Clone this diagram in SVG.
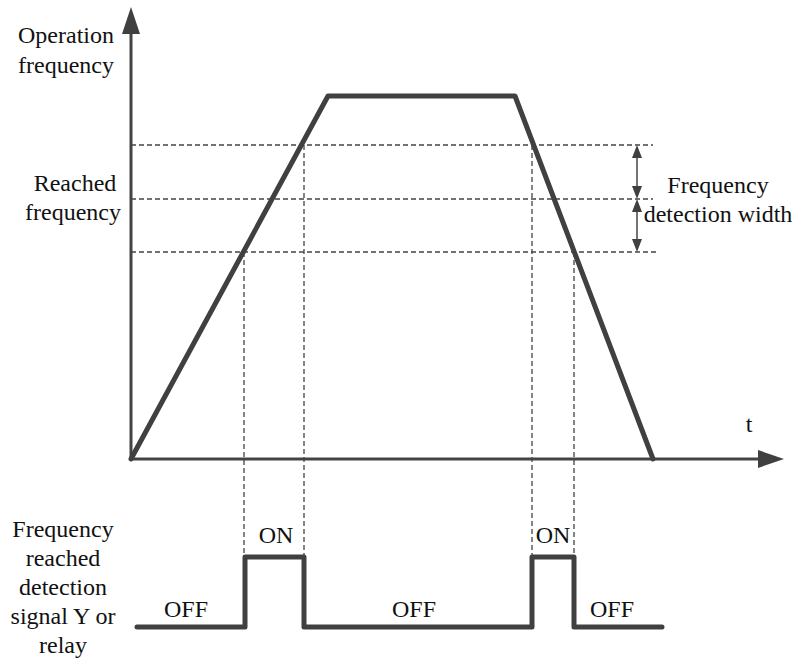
<svg xmlns="http://www.w3.org/2000/svg" width="798" height="663" viewBox="0 0 798 663">
<style>
.ax{stroke:#444;stroke-width:3;fill:none}
.thick{stroke:#404040;stroke-width:5;fill:none;stroke-linejoin:round;stroke-linecap:round}
.dash{stroke:#444;stroke-width:1.3;stroke-dasharray:5,3;fill:none}
.dim{stroke:#444;stroke-width:1.5;fill:none}
</style>
<rect width="798" height="663" fill="#fff"/>
<g id="axes">
<line class="ax" x1="131" y1="460" x2="131" y2="30"/>
<path d="M131,7 L122,34 L140,34 Z" fill="#404040"/>
<line class="ax" x1="131" y1="459" x2="760" y2="459"/>
<path d="M784,459 L758,450 L758,468 Z" fill="#404040"/>
</g>
<g id="connectors">
<line class="dash" x1="131" y1="145" x2="653" y2="145"/>
<line class="dash" x1="131" y1="199" x2="653" y2="199"/>
<line class="dash" x1="131" y1="252" x2="657" y2="252"/>
<line class="dash" x1="244" y1="252" x2="244" y2="557"/>
<line class="dash" x1="304" y1="145" x2="304" y2="557"/>
<line class="dash" x1="532" y1="145" x2="532" y2="557"/>
<line class="dash" x1="574" y1="252" x2="574" y2="557"/>
<line class="dim" x1="637" y1="152" x2="637" y2="192"/>
<path d="M637,145 L632,158 L642,158 Z M637,199 L632,186 L642,186 Z" fill="#404040"/>
<line class="dim" x1="637" y1="205" x2="637" y2="245"/>
<path d="M637,199 L632,212 L642,212 Z M637,252 L632,239 L642,239 Z" fill="#404040"/>
</g>
<g id="frequency-curve">
<polyline class="thick" points="131,459 328,96 515,96 653,459"/>
</g>
<g id="signal">
<polyline class="thick" points="137,627 245,627 245,557 304,557 304,627 532,627 532,557 574,557 574,627 662,627"/>
</g>
<g id="labels" fill="#111" text-anchor="middle">
<text font-family="Liberation Serif" font-size="24" x="66" y="43">Operation</text>
<text font-family="Liberation Serif" font-size="24" x="66" y="73">frequency</text>
<text font-family="Liberation Serif" font-size="24" x="75" y="191">Reached</text>
<text font-family="Liberation Serif" font-size="24" x="73" y="220">frequency</text>
<text font-family="Liberation Serif" font-size="24" x="718" y="193">Frequency</text>
<text font-family="Liberation Serif" font-size="24" x="718" y="222">detection width</text>
<text font-family="Liberation Serif" font-size="24" x="749" y="432">t</text>
<text font-family="Liberation Serif" font-size="24" x="63" y="537">Frequency</text>
<text font-family="Liberation Serif" font-size="24" x="63" y="566">reached</text>
<text font-family="Liberation Serif" font-size="24" x="63" y="595">detection</text>
<text font-family="Liberation Serif" font-size="24" x="63" y="624">signal Y or</text>
<text font-family="Liberation Serif" font-size="24" x="63" y="653">relay</text>
<text font-family="Liberation Serif" font-size="24" x="276" y="543">ON</text>
<text font-family="Liberation Serif" font-size="24" x="553" y="543">ON</text>
<text font-family="Liberation Serif" font-size="24" x="186" y="617">OFF</text>
<text font-family="Liberation Serif" font-size="24" x="414" y="617">OFF</text>
<text font-family="Liberation Serif" font-size="24" x="612" y="617">OFF</text>
</g>
</svg>
